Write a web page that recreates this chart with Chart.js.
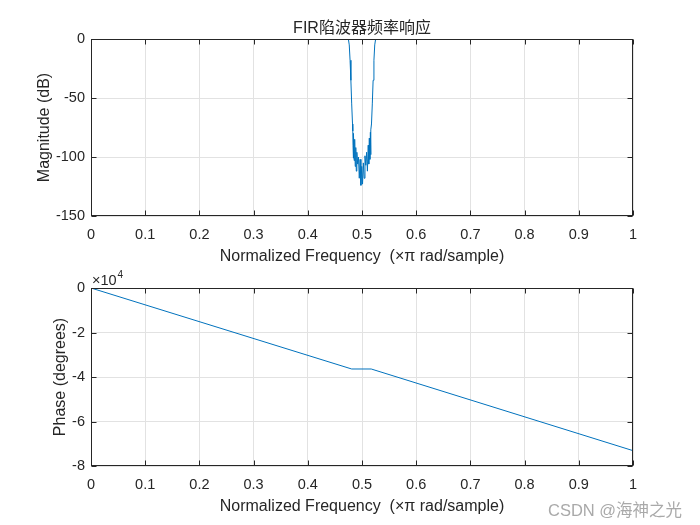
<!DOCTYPE html>
<html lang="zh">
<head>
<meta charset="UTF-8" />
<title>FIR陷波器频率响应</title>
<script src="https://cdn.jsdelivr.net/npm/chart.js@4.4.0/dist/chart.umd.min.js"></script>
<style>
  body { margin: 0; background: #fff; }
  #wrap { position: relative; width: 700px; height: 525px; }
  canvas { position: absolute; left: 0; }
  #mark { position: absolute; left: 548px; top: 497px; font: 16.5px "Liberation Sans", "Noto Sans CJK SC", sans-serif; color: #a9a9a9; white-space: nowrap; }
</style>
</head>
<body>
<div id="wrap">
  <canvas id="magChart" width="700" height="270" style="top:0"></canvas>
  <canvas id="phaseChart" width="700" height="255" style="top:270px"></canvas>
  <div id="mark">CSDN @海神之光</div>
</div>
<script>
// magnitude response (dB)
const freqMag = [0, 0.47, 0.475, 0.4765, 0.478, 0.4795, 0.481, 0.4825, 0.483, 0.4835, 0.484, 0.4845,
  0.4855, 0.4865, 0.4875, 0.4885, 0.4895, 0.4905, 0.492, 0.4935, 0.495, 0.4965, 0.498, 0.4995,
  0.501, 0.5025, 0.504, 0.5055, 0.507, 0.5085, 0.51, 0.5115, 0.5125, 0.5135, 0.5145, 0.5155,
  0.516, 0.5165, 0.5175, 0.519, 0.5205, 0.522, 0.5235, 0.525, 0.53, 1];
const magDb = [0, 0, -0.5, -5, -18, -35, -55, -72, -78, -90, -101, -80,
  -103, -85, -108, -92, -112, -96, -106, -100, -118, -102, -124, -108,
  -123, -105, -118, -99, -107, -96, -112, -90, -106, -84, -102, -79,
  -98, -77, -72, -55, -35, -18, -5, -0.5, 0, 0];

// phase response (degrees)
const freqPhase = [0, 0.481, 0.517, 1];
const phaseDeg = [0, -36400, -36400, -73100];

const xTicks = [0, 0.1, 0.2, 0.3, 0.4, 0.5, 0.6, 0.7, 0.8, 0.9, 1];
const magTicks = [-150, -100, -50, 0];
const phaseTicks = [-80000, -60000, -40000, -20000, 0];

const FONT = '"Liberation Sans", "Noto Sans CJK SC", sans-serif';
const INK = '#262626';
Chart.defaults.font.family = FONT;
Chart.defaults.color = INK;

// box around the axes, inward ticks, title and exponent text
const boxPlugin = {
  id: 'box',
  afterDatasetsDraw(chart, args, opts) {
    const { ctx, chartArea: a, scales: { x, y } } = chart;
    const L = Math.round(a.left) + 0.5, R = Math.round(a.right) - 0.5;
    const T = Math.round(a.top) + 0.5, B = Math.round(a.bottom) - 0.5;
    ctx.save();
    ctx.strokeStyle = INK;
    ctx.lineWidth = 1;
    ctx.beginPath();
    x.ticks.forEach(t => {
      const px = Math.round(x.getPixelForValue(t.value)) + 0.5;
      ctx.moveTo(px, B); ctx.lineTo(px, B - 5);
      ctx.moveTo(px, T); ctx.lineTo(px, T + 5);
    });
    y.ticks.forEach(t => {
      const py = Math.round(y.getPixelForValue(t.value)) + 0.5;
      ctx.moveTo(L, py); ctx.lineTo(L + 5, py);
      ctx.moveTo(R, py); ctx.lineTo(R - 5, py);
    });
    ctx.stroke();
    ctx.strokeRect(L, T, R - L, B - T);
    ctx.fillStyle = INK;
    if (opts.title) {
      ctx.font = '16px ' + FONT;
      ctx.textAlign = 'center';
      ctx.textBaseline = 'middle';
      ctx.fillText(opts.title, (a.left + a.right) / 2, a.top - 10);
    }
    if (opts.exponent) {
      ctx.textAlign = 'left';
      ctx.textBaseline = 'middle';
      ctx.font = '14.5px ' + FONT;
      ctx.fillText('\u00d710', a.left + 1, a.top - 7);
      const w = ctx.measureText('\u00d710').width;
      ctx.font = '10px ' + FONT;
      ctx.fillText(opts.exponent, a.left + 1 + w + 1, a.top - 13);
    }
    ctx.restore();
  }
};

function makeChart(id, xs, ys, yTicks, opt) {
  const ctx = document.getElementById(id).getContext('2d');
  return new Chart(ctx, {
    type: 'line',
    data: {
      datasets: [{
        data: xs.map((f, i) => ({ x: f, y: ys[i] })),
        borderColor: '#0072BD',
        borderWidth: 1,
        pointRadius: 0,
        tension: 0,
        fill: false
      }]
    },
    options: {
      responsive: false,
      animation: false,
      devicePixelRatio: 1,
      layout: { padding: { left: 0, right: 67, top: opt.top, bottom: 0 } },
      plugins: {
        legend: { display: false },
        tooltip: { enabled: false },
        box: { title: opt.title, exponent: opt.exponent }
      },
      scales: {
        x: {
          type: 'linear',
          min: 0,
          max: 1,
          afterFit: s => { s.height = opt.xHeight; },
          afterBuildTicks: s => { s.ticks = xTicks.map(v => ({ value: v })); },
          ticks: { padding: 10, font: { size: 14.5 }, callback: v => String(v) },
          grid: { color: '#e2e2e2', drawTicks: false },
          border: { display: false },
          title: {
            display: true,
            text: 'Normalized Frequency  (\u00d7\u03c0 rad/sample)',
            font: { size: 16, lineHeight: 1.2 },
            padding: { top: 0, bottom: opt.xTitlePad }
          }
        },
        y: {
          type: 'linear',
          min: yTicks[0],
          max: yTicks[yTicks.length - 1],
          afterFit: s => { s.width = 91; },
          afterBuildTicks: s => { s.ticks = yTicks.map(v => ({ value: v })); },
          ticks: { padding: 6, font: { size: 14.5 }, callback: opt.yFmt },
          grid: { color: '#e2e2e2', drawTicks: false },
          border: { display: false },
          title: {
            display: true,
            text: opt.yLabel,
            font: { size: 16, lineHeight: 1.2 },
            padding: { top: opt.yTitlePad, bottom: 0 }
          }
        }
      }
    },
    plugins: [boxPlugin]
  });
}

makeChart('magChart', freqMag, magDb, magTicks, {
  top: 39, xHeight: 54, xTitlePad: 3.4, yTitlePad: 35.4,
  yLabel: 'Magnitude (dB)', yFmt: v => String(v),
  title: 'FIR陷波器频率响应'
});

makeChart('phaseChart', freqPhase, phaseDeg, phaseTicks, {
  top: 18, xHeight: 59, xTitlePad: 8.4, yTitlePad: 51.4,
  yLabel: 'Phase (degrees)', yFmt: v => String(v / 10000),
  exponent: '4'
});
</script>
</body>
</html>
